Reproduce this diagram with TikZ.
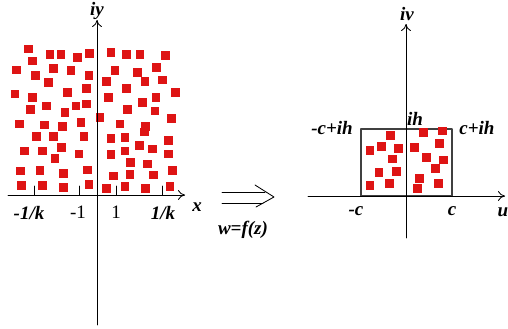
\documentclass[tikz,border=0pt]{standalone}
\usepackage{fontspec}
\setmainfont{Liberation Serif}
\usetikzlibrary{arrows.meta}
\definecolor{sqred}{RGB}{222,20,20}
\tikzset{
	axis/.style={line width=0.6pt, -{To[length=5pt,width=7pt]}},
	sq/.style={fill=sqred},
	lbl/.style={font=\fontsize{13.5}{15}\selectfont\bfseries\itshape},
}
\begin{document}
\begin{tikzpicture}[x=0.025cm, y=-0.025cm, font=\fontsize{13.5}{15}\selectfont, line join=round, line cap=round]
	\useasboundingbox (0,0) rectangle (508,329);
	% left plane: squares
	\foreach \x/\y in {85/147,150/163,183/163,233/173,268/160,333/157,380/163,420/163,497/167,
		97/183,160/205,213/212,50/210,107/227,145/248,267/227,345/212,412/218,470/203,320/245,435/245,488/240,
		45/282,97/292,203/277,260/265,325/292,380/265,428/308,468/292,527/277,
		92/328,140/318,195/338,228/318,260/312,300/353,383/328,465/333,515/355,
		58/372,133/375,188/380,243/367,360/372,437/380,433/396,
		110/410,160/410,252/410,333/415,375/413,505/422,
		73/453,127/453,185/442,165/475,237/462,333/463,375/453,418/437,457/447,505/462,
		62/513,120/512,190/520,262/510,340/528,390/523,392/488,442/492,460/525,517/512,
		65/557,127/557,190/563,267/553,320/565,375/560,437/565,510/560}
		\fill[sq] (\x/3,\y/3) +(-4.3,-4.3) rectangle +(4.3,4.3);
	% left plane: axes
	\draw[axis] (8,195) -- (185,195);
	\draw[axis] (97,325) -- (97,20);
	\node[lbl] (x) at (197,207) {x};
	\node[lbl] (iy) at (97,11) {iy};
	\foreach \t in {34,79,116,162}
		\draw[line width=0.6pt] (\t,195) -- (\t,186);
	\node[lbl] (mk) at (29,213) {-1/k};
	\node (m1) at (78,212) {-1};
	\node (p1) at (116,212) {1};
	\node[lbl] (pk) at (163,213) {1/k};
	% mapping arrow
	\coordinate (a1) at (222,192);
	\coordinate (b1) at (265,192);
	\coordinate (a2) at (222,203);
	\coordinate (b2) at (263,203);
	\coordinate (t) at (274,197);
	\draw[line width=0.6pt] (a1) -- (b1) (a2) -- (b2);
	\draw[line width=0.6pt] (255,185) -- (t) -- (256,207);
	\node[lbl] (w) at (243,230) {w=f(z)};
	% right plane: rectangle and squares
	\draw[line width=0.8pt, black!75] (361,196) rectangle (452,129);
	\foreach \x/\y in {272/407,210/452,245/440,295/445,277/477,237/517,290/515,210/557,268/550,
		370/397,428/393,343/442,418/430,380/472,430/480,407/505,358/535,352/565,415/550}
		\fill[sq] (300+\x/3,\y/3) +(-4.3,-4.3) rectangle +(4.3,4.3);
	% right plane: axes
	\draw[axis] (308,196) -- (505,196);
	\draw[axis] (406,238) -- (406,24);
	\node[lbl] (u) at (503,212) {u};
	\node[lbl] (iv) at (407,14) {iv};
	\node[lbl] (ci) at (332,128) {-c+ih};
	\node[lbl] (ih) at (415,119) {ih};
	\node[lbl] (cp) at (477,128) {c+ih};
	\node[lbl] (mc) at (356,211) {-c};
	\node[lbl] (c) at (452,211) {c};
\end{tikzpicture}
\end{document}
